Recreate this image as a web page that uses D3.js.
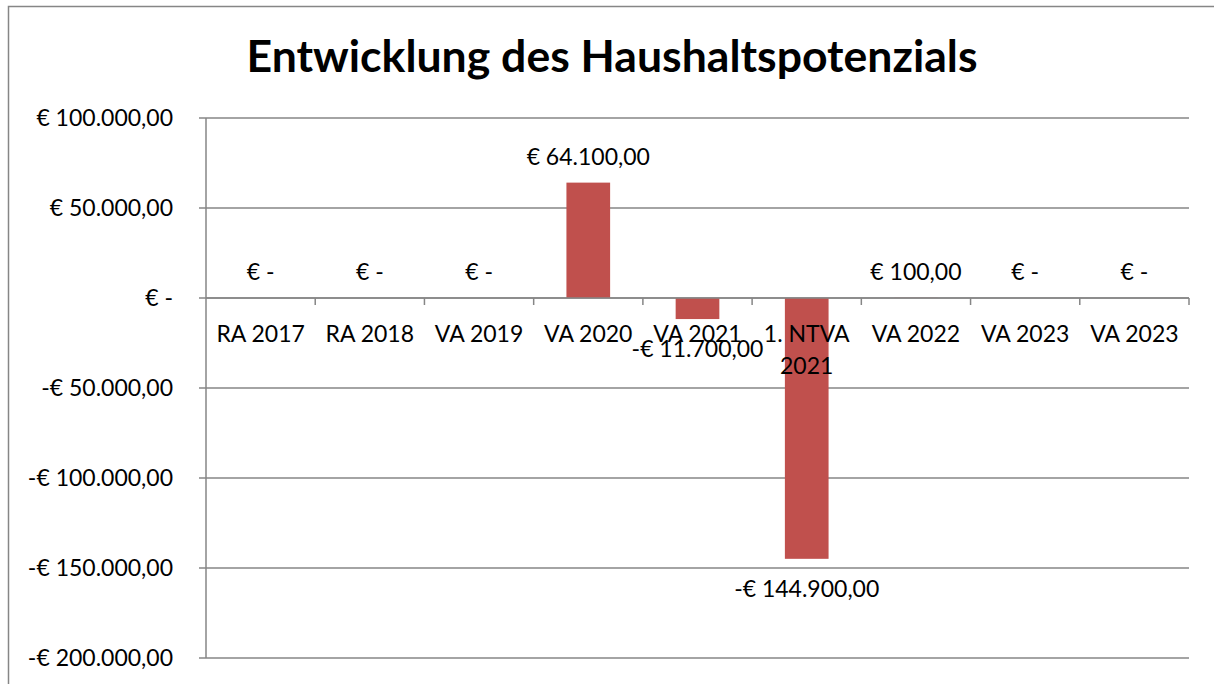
<!DOCTYPE html>
<html>
<head>
<meta charset="utf-8">
<script src="https://cdn.jsdelivr.net/npm/d3@7"></script>
<style>
  body { margin: 0; background: #fff; }
  text { font-family: Lato, "Open Sans", sans-serif; fill: #000; }
</style>
</head>
<body>
<div id="chart"></div>
<script>
// chart data
var categories = ["RA 2017", "RA 2018", "VA 2019", "VA 2020", "VA 2021", "1. NTVA 2021", "VA 2022", "VA 2023", "VA 2023"];
var values = [0, 0, 0, 64100, -11700, -144900, 100, 0, 0];
var yTicks = [100000, 50000, 0, -50000, -100000, -150000, -200000];
var title = "Entwicklung des Haushaltspotenzials";

var svgWidth = 1214;
var svgHeight = 684;

var margin = { top: 118, left: 206, right: 25, bottom: 26 };
var width = svgWidth - margin.left - margin.right;
var height = svgHeight - margin.top - margin.bottom;

var lineColor = "#868686";
var barColor = "#C0504D";
var fontSize = "23px";

// german accounting style: € 64.100,00 / -€ 11.700,00 / € -
var de = d3.formatLocale({ decimal: ",", thousands: ".", grouping: [3], currency: ["€", ""] });
var num = de.format(",.2f");
function euro(v) {
  if (v === 0) return "€ -";
  return (v < 0 ? "-" : "") + "€ " + num(Math.abs(v));
}

var svg = d3.select("#chart").append("svg")
  .attr("width", svgWidth)
  .attr("height", svgHeight);

// outer chart border (runs off the right and bottom edge)
svg.append("rect")
  .attr("x", 8.5).attr("y", 6.5)
  .attr("width", 1400).attr("height", 1000)
  .attr("fill", "none")
  .attr("stroke", lineColor)
  .attr("stroke-width", 1.5);

svg.append("text")
  .attr("x", 612)
  .attr("y", 72)
  .attr("text-anchor", "middle")
  .style("font-weight", "bold")
  .style("font-size", "43px")
  .attr("textLength", 731)
  .attr("lengthAdjust", "spacingAndGlyphs")
  .text(title);

var chartGroup = svg.append("g")
  .attr("transform", `translate(${margin.left}, ${margin.top})`);

var x = d3.scaleBand()
  .domain(d3.range(categories.length))
  .range([0, width])
  .paddingInner(0.6)
  .paddingOuter(0.3);

var y = d3.scaleLinear()
  .domain([-200000, 100000])
  .range([height, 0]);

// gridlines
chartGroup.selectAll(".grid")
  .data(yTicks)
  .enter()
  .append("line")
  .attr("class", "grid")
  .attr("x1", -7)
  .attr("x2", width)
  .attr("y1", d => y(d))
  .attr("y2", d => y(d))
  .attr("stroke", lineColor)
  .attr("stroke-width", 1.5);

// y axis line
chartGroup.append("line")
  .attr("x1", 0).attr("x2", 0)
  .attr("y1", 0).attr("y2", height)
  .attr("stroke", lineColor)
  .attr("stroke-width", 1.5);

// y tick labels
chartGroup.selectAll(".ylab")
  .data(yTicks)
  .enter()
  .append("text")
  .attr("class", "ylab")
  .attr("x", -33)
  .attr("y", d => y(d))
  .attr("dy", "0.35em")
  .attr("text-anchor", "end")
  .style("font-size", fontSize)
  .text(d => euro(d));

// category tick marks
var step = x.step();
chartGroup.selectAll(".xtick")
  .data(d3.range(1, categories.length + 1))
  .enter()
  .append("line")
  .attr("class", "xtick")
  .attr("x1", d => d * step)
  .attr("x2", d => d * step)
  .attr("y1", y(0))
  .attr("y2", y(0) + 7)
  .attr("stroke", lineColor)
  .attr("stroke-width", 1.5);

// bars
chartGroup.selectAll(".bar")
  .data(values)
  .enter()
  .append("rect")
  .attr("class", "bar")
  .attr("x", (d, i) => x(i))
  .attr("width", x.bandwidth())
  .attr("y", d => y(Math.max(0, d)))
  .attr("height", d => Math.abs(y(d) - y(0)))
  .attr("fill", barColor);

// redraw zero line on top of the bars
chartGroup.append("line")
  .attr("x1", 0).attr("x2", width)
  .attr("y1", y(0)).attr("y2", y(0))
  .attr("stroke", lineColor)
  .attr("stroke-width", 1.5);

// category labels (wrap long one)
var catLabels = chartGroup.selectAll(".xlab")
  .data(categories)
  .enter()
  .append("text")
  .attr("class", "xlab")
  .attr("x", (d, i) => x(i) + x.bandwidth() / 2)
  .attr("y", y(0) + 44)
  .attr("text-anchor", "middle")
  .style("font-size", fontSize);

catLabels.each(function(d) {
  var parts = d.length > 9 ? ["1. NTVA", "2021"] : [d];
  var t = d3.select(this);
  parts.forEach(function(p, k) {
    t.append("tspan")
      .attr("x", t.attr("x"))
      .attr("dy", k === 0 ? 0 : 32)
      .text(p);
  });
});

// data labels
chartGroup.selectAll(".vlab")
  .data(values)
  .enter()
  .append("text")
  .attr("class", "vlab")
  .attr("x", (d, i) => x(i) + x.bandwidth() / 2)
  .attr("y", d => d < 0 ? y(d) + 30 : y(d) - 26)
  .attr("dy", "0.35em")
  .attr("text-anchor", "middle")
  .style("font-size", fontSize)
  .text(d => euro(d));
</script>
</body>
</html>
